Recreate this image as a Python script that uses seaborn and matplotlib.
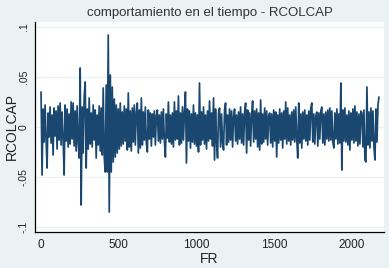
# plot.py
# Aikasarjakuva: RCOLCAP-tuotot FR-indeksin mukaan (Stata-tyylinen ulkoasu)
import numpy as np
import pandas as pd
import matplotlib
matplotlib.use("Agg")
import matplotlib.pyplot as plt
import seaborn as sns

# Sarjan arvot tuhannesosina, luettu kuvasta (yksi arvo ~ yksi pikselisarake)
rcolcap_thousandths = [
    35, -48, 18, -15, 22, -12, -41, 14, -10, 20, -16, 12, -28, 19, -9, 16, -22, 21, -13, 24,
    -18, 15, -11, -48, 22, -14, 18, -20, 13, -17, 25, -12, 24, -19, 16, -24, 21, -15, -31, 59,
    -78, 20, -26, 30, 45, -41, 18, -22, 29, -17, 14, -20, 22, -13, 17, -31, 12, -18, 21, -24,
    19, -28, 39, -30, -45, 42, -45, 92, -85, 52, -45, 40, -35, 28, -30, 22, -26, 18, -22, 24,
    -19, 15, -17, 21, -14, 18, -23, 34, -20, 16, -24, 19, -15, 22, -18, 14, 24, -26, 17, -21,
    29, -18, 15, -13, 20, -16, -25, 17, -12, 14, -19, 13, -10, 16, -18, 11, 17, -14, 12, -16,
    15, -12, 18, -14, -30, 13, -11, 25, -15, 12, -17, 14, -20, 25, -13, 16, -12, 31, -18, 14,
    -16, 20, -13, 15, 35, -36, 18, -14, 16, -21, 13, -15, 22, -17, 14, -19, 12, -25, 44, -18,
    15, -13, 20, -17, 12, -22, 16, -14, 26, -12, 14, -19, 29, -33, 18, -15, -31, 14, 19, -20,
    13, -16, -23, 17, 24, -18, 12, -15, 18, -13, 16, -20, 11, 18, -14, 12, -17, 15, -12, 20,
    -16, 13, -18, 15, 24, -26, 17, -13, 14, -19, 12, 26, -15, 16, -12, 18, -20, 14, -23, 27,
    -17, 13, -15, 19, -12, 16, -18, 11, 14, -16, 13, -20, 17, -14, 15, -30, 12, -16, 18, -13,
    14, -21, 16, -12, 25, -17, 19, -14, 12, -18, 15, -13, 17, -15, 20, -12, -31, 24, -16, 13,
    -21, 15, -12, 17, -14, 12, -18, 16, -13, 19, 24, -15, 13, -17, 11, 15, -19, 14, -12, 16,
    20, -16, 13, -18, 15, -12, 17, -14, 19, -13, 16, -15, -21, 14, -12, 18, -17, 13, -16, 44,
    -43, 17, -14, 19, -15, 12, -18, 16, -23, 14, -13, 18, -16, 21, -14, 15, -19, 13, -17, 16,
    14, -20, 17, -33, -35, 40, -18, 15, -21, 19, -14, 16, -20, -33, 18, -15, 22, 30,
]
fr_step = 6.45  # FR-yksikköä per luettu arvo

x_ticks = [0, 500, 1000, 1500, 2000]
y_ticks = [-0.1, -0.05, 0.0, 0.05, 0.1]
y_tick_labels = ["-.1", "-.05", "0", ".05", ".1"]

df = pd.DataFrame({"RCOLCAP": np.array(rcolcap_thousandths) / 1000.0})
df["FR"] = np.arange(len(df)) * fr_step

# Stata s2color -tyyliset värit
BG = "#eaf2f3"
NAVY = "#1a476f"

sns.set_style("white")
plt.rcParams["font.family"] = ["Liberation Sans", "DejaVu Sans"]

fig = plt.figure(figsize=(3.89, 2.68), dpi=100, facecolor=BG)
ax = fig.add_axes([35 / 389, 1 - 232 / 268, (384 - 35) / 389, (232 - 22) / 268])
ax.set_facecolor("white")

for yt in y_ticks:
    ax.axhline(yt, color=BG, lw=1.0, zorder=0)

sns.lineplot(data=df, x="FR", y="RCOLCAP", ax=ax, color=NAVY, lw=1.25,
             estimator=None, sort=False)

ax.set_xlim(-39, 2206)
ax.set_ylim(-0.105, 0.105)
ax.set_xticks(x_ticks)
ax.set_yticks(y_ticks)
ax.set_yticklabels(y_tick_labels, rotation=90, va="center")

for lab in ax.get_xticklabels():
    lab.set_fontsize(8.5)
    lab.set_color("#222222")
for lab in ax.get_yticklabels():
    lab.set_fontsize(7.5)
    lab.set_color("#222222")

ax.tick_params(axis="both", direction="out", length=3, width=0.8, color="black")
ax.tick_params(axis="x", pad=2)
ax.tick_params(axis="y", pad=1.5)
for side in ["top", "right"]:
    ax.spines[side].set_visible(False)
for side in ["left", "bottom"]:
    ax.spines[side].set_color("black")
    ax.spines[side].set_linewidth(0.9)

ax.set_xlabel("FR", fontsize=10, color="#222222", labelpad=1)
ax.set_ylabel("RCOLCAP", fontsize=10, color="#222222")
ax.yaxis.set_label_coords(-0.047, 0.5)
ax.set_title("comportamiento en el tiempo - RCOLCAP", fontsize=9.5, color="#333333", pad=4)

fig.savefig("out.png", dpi=100, facecolor=BG)
